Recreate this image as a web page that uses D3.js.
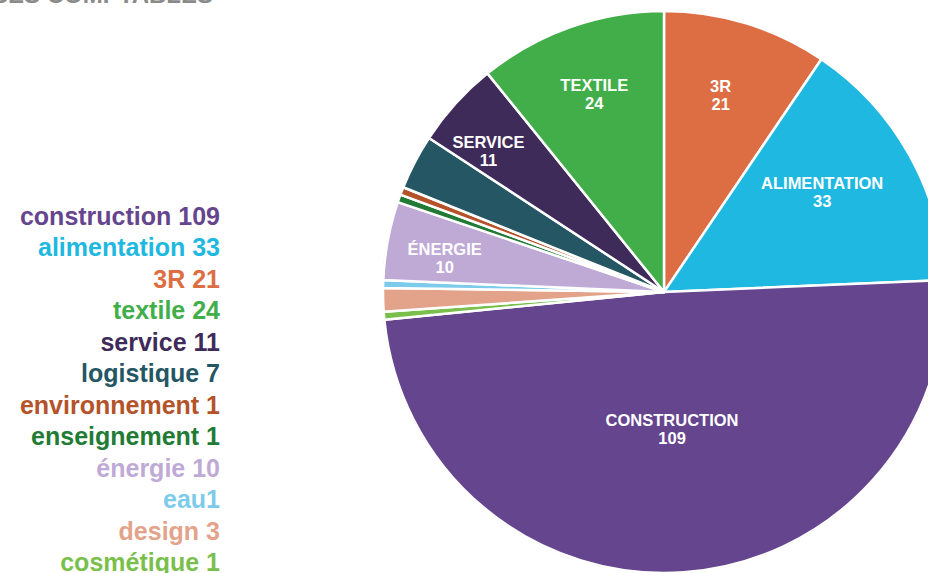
<!DOCTYPE html>
<html>
<head>
<meta charset="utf-8">
<script src="https://cdn.jsdelivr.net/npm/d3@7"></script>
<style>
  html, body { margin: 0; padding: 0; background: #fff; }
  svg { display: block; font-family: "Liberation Sans", Arial, sans-serif; }
</style>
</head>
<body>
<div id="chart"></div>
<script>
// Slice order, clockwise from 12 o'clock
const categories = ['3R', 'alimentation', 'construction', 'cosmétique', 'design', 'eau', 'énergie', 'enseignement', 'environnement', 'logistique', 'service', 'textile'];
const counts = [21, 33, 109, 1, 3, 1, 10, 1, 1, 7, 11, 24];
const colors = ['#dd6d42', '#1eb8e0', '#65458e', '#7abf4c', '#e3a38a', '#7ccbea', '#bfaad6', '#217b35', '#b4532a', '#245663', '#3f2b5a', '#41ae4a'];

// Legend order and text
const legendOrder = ['construction', 'alimentation', '3R', 'textile', 'service', 'logistique', 'environnement', 'enseignement', 'énergie', 'eau', 'design', 'cosmétique'];
const legendLabels = ['construction 109', 'alimentation 33', '3R 21', 'textile 24', 'service 11', 'logistique 7', 'environnement 1', 'enseignement 1', 'énergie 10', 'eau1', 'design 3', 'cosmétique 1'];

// Slices that get an inside label
const labelled = ['3R', 'alimentation', 'construction', 'énergie', 'service', 'textile'];

const title = 'ENTREPRISES COMPTABLES';

const width = 928;
const height = 573;
const cx = 664;
const cy = 292;
const radius = 281;

// where the inside labels sit: [share of radius, angle nudge in degrees]
const labelPlace = {
  '3R': [0.73, -1],
  alimentation: [0.665, -3],
  construction: [0.49, 0.7],
  'énergie': [0.79, -1.7],
  service: [0.8, -3.5],
  textile: [0.745, 0],
};

const data = categories.map((c, i) => ({ name: c, value: counts[i] }));
const color = d3.scaleOrdinal().domain(categories).range(colors);

const svg = d3.select('#chart').append('svg').attr('width', width).attr('height', height);

// title, cut by the top edge
svg.append('text')
  .attr('x', 213)
  .attr('y', 3)
  .attr('text-anchor', 'end')
  .attr('fill', '#8a8a8a')
  .style('font-size', '24px')
  .style('font-weight', 'bold')
  .text(title);

/* Pie
=========================================================================*/
const pie = d3.pie().value((d) => d.value).sort(null);
const arc = d3.arc().innerRadius(0).outerRadius(radius);
const arcs = pie(data);

const g = svg.append('g').attr('transform', `translate(${cx},${cy})`);

g.append('circle').attr('r', radius + 0.5).attr('fill', 'none').attr('stroke', '#d8d8d8').attr('stroke-width', 1);

g.selectAll('path')
  .data(arcs)
  .enter()
  .append('path')
  .attr('d', arc)
  .attr('fill', (d) => color(d.data.name))
  .attr('stroke', '#fff')
  .attr('stroke-width', 2.5)
  .attr('stroke-linejoin', 'round');

const labels = g.selectAll('text.slice')
  .data(arcs.filter((d) => labelled.includes(d.data.name)))
  .enter()
  .append('text')
  .attr('class', 'slice')
  .attr('transform', (d) => {
    const [share, nudge] = labelPlace[d.data.name];
    const r = radius * share;
    const a = (d.startAngle + d.endAngle) / 2 + (nudge * Math.PI) / 180;
    return `translate(${Math.sin(a) * r},${-Math.cos(a) * r})`;
  })
  .attr('text-anchor', 'middle')
  .attr('fill', '#fff')
  .style('font-size', '16.5px')
  .style('font-weight', 'bold');

labels.append('tspan').attr('x', 0).attr('dy', '-0.2em').text((d) => d.data.name.toUpperCase());
labels.append('tspan').attr('x', 0).attr('dy', '1.1em').text((d) => d.data.value);

/* Legend
=========================================================================*/
const legendY = d3.scalePoint().domain(legendOrder).range([225, 571]);

svg.append('g')
  .selectAll('text')
  .data(legendOrder)
  .enter()
  .append('text')
  .attr('x', 220)
  .attr('y', (d) => legendY(d))
  .attr('text-anchor', 'end')
  .attr('fill', (d) => color(d))
  .style('font-size', '25px')
  .style('font-weight', 'bold')
  .text((d, i) => legendLabels[i]);
</script>
</body>
</html>
